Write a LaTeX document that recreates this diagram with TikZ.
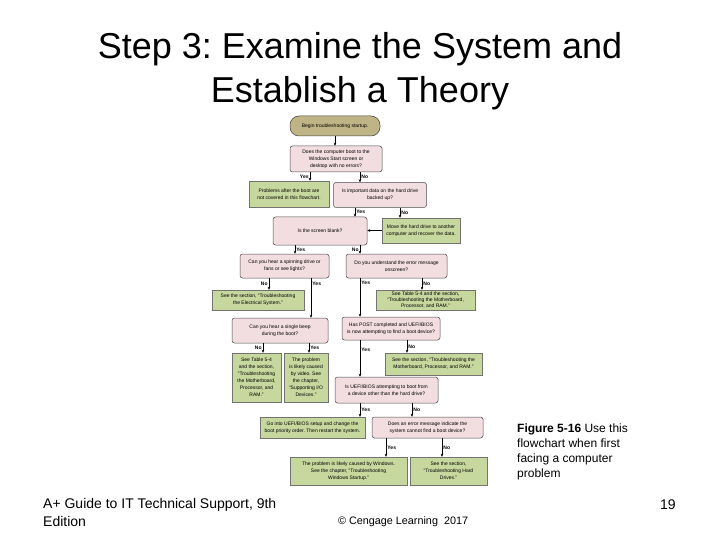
\documentclass[tikz,border=0pt]{standalone}
\usepackage{fontspec}
\setmainfont{Liberation Sans}
\usetikzlibrary{arrows.meta}
\frenchspacing

\definecolor{askpink}{RGB}{242,221,224}
\definecolor{dogreen}{RGB}{199,216,158}
\definecolor{begintan}{RGB}{191,180,133}
\newcommand{\flowfont}{\fontsize{5}{7}\selectfont}

\tikzset{
  question/.style={draw=black!70, fill=askpink, rounded corners=2.5pt, align=center, font=\flowfont, inner sep=1pt, line width=0.5pt},
  answer/.style={draw=black!55, fill=dogreen, align=center, font=\flowfont, inner sep=1pt, line width=0.4pt},
  beginbox/.style={draw=black!75, fill=begintan, rounded corners=9pt, align=center, font=\flowfont, line width=0.5pt},
  flowarrow/.style={-{Stealth[length=3pt,width=2.6pt]}, line width=0.45pt},
  choice/.style={font=\flowfont\bfseries, inner sep=1.2pt}
}

\begin{document}
\begin{tikzpicture}[x=1pt,y=-1pt]
  \useasboundingbox (0,0) rectangle (720,540);

  % title
  \node[anchor=base, font=\fontsize{36}{44}\selectfont] (title1) at (360,59) {Step 3: Examine the System and};
  \node[anchor=base, font=\fontsize{36}{44}\selectfont] (title2) at (360,103) {Establish a Theory};

  % flowchart boxes
  \node[beginbox, minimum width=90, minimum height=20] (begin) at (335,126) {Begin troubleshooting startup.};
  \node[question, minimum width=92, minimum height=26] (boot) at (336,159) {Does the computer boot to the\\ Windows Start screen or\\ desktop with no errors?};
  \node[answer, minimum width=80, minimum height=26] (notcovered) at (289,194) {Problems after the boot are\\ not covered in this flowchart.};
  \node[question, minimum width=93, minimum height=25] (backup) at (380,195) {Is important data on the hard drive\\ backed up?};
  \node[answer, minimum width=78, minimum height=25] (movedrive) at (421,230.5) {Move the hard drive to another\\ computer and recover the data.};
  \node[question, minimum width=94, minimum height=28] (blank) at (320,231) {Is the screen blank?};
  \node[question, minimum width=89, minimum height=24] (spinning) at (284.5,266) {Can you hear a spinning drive or\\ fans or see lights?};
  \node[question, minimum width=101, minimum height=24] (errmsg) at (396.5,266) {Do you understand the error message\\ onscreen?};
  \node[answer, minimum width=92, minimum height=20] (electrical) at (258,300) {See the section, “Troubleshooting\\ the Electrical System.”};
  \node[answer, minimum width=99, minimum height=20, font=\fontsize{5}{6.2}\selectfont, inner sep=0.5pt] (mobo) at (425.5,300) {See Table 5-4 and the section,\\ “Troubleshooting the Motherboard,\\ Processor, and RAM.”};
  \node[question, minimum width=96, minimum height=25] (beep) at (280,330.5) {Can you hear a single beep\\ during the boot?};
  \node[question, minimum width=98, minimum height=23] (post) at (391,328.5) {Has POST completed and UEFI/BIOS\\ is now attempting to find a boot device?};
  \node[answer, minimum width=49, minimum height=49] (beepmobo) at (256.5,377.5) {See Table 5-4\\ and the section,\\ “Troubleshooting\\ the Motherboard,\\ Processor, and\\ RAM.”};
  \node[answer, minimum width=44, minimum height=49] (video) at (306,377.5) {The problem\\ is likely caused\\ by video. See\\ the chapter,\\ “Supporting I/O\\ Devices.”};
  \node[answer, minimum width=97, minimum height=22] (postmobo) at (433.5,364) {See the section, “Troubleshooting the\\ Motherboard, Processor, and RAM.”};
  \node[question, minimum width=103, minimum height=26] (otherdev) at (386.5,390) {Is UEFI/BIOS attempting to boot from\\ a device other than the hard drive?};
  \node[answer, minimum width=105, minimum height=21] (priority) at (312.5,427.5) {Go into UEFI/BIOS setup and change the\\ boot priority order. Then restart the system.};
  \node[question, minimum width=111, minimum height=21] (nodevice) at (427.5,427.5) {Does an error message indicate the\\ system cannot find a boot device?};
  \node[answer, minimum width=117, minimum height=28] (windows) at (348.5,471) {The problem is likely caused by Windows.\\ See the chapter, “Troubleshooting\\ Windows Startup.”};
  \node[answer, minimum width=77, minimum height=28] (harddrive) at (448.5,471) {See the section,\\ “Troubleshooting Hard\\ Drives.”};

  % connectors
  \draw[flowarrow] (begin.south) -- (begin.south |- boot.north);
  \draw[flowarrow] ([xshift=-26]boot.south) -- ([xshift=-26]boot.south |- notcovered.north) node[choice, midway, left] {Yes};
  \draw[flowarrow] ([xshift=24]boot.south) -- ([xshift=24]boot.south |- backup.north) node[choice, midway, right] {No};
  \draw[flowarrow] ([xshift=-25]backup.south) -- ([xshift=-25]backup.south |- blank.north) node[choice, midway, right] {Yes};
  \draw[flowarrow] ([xshift=20]backup.south) -- ([xshift=20]backup.south |- movedrive.north) node[choice, midway, right] {No};
  \draw[flowarrow] (movedrive.west) -- (movedrive.west -| blank.east);
  \draw[flowarrow] ([xshift=-25]blank.south) -- ([xshift=-25]blank.south |- spinning.north) node[choice, midway, right] {Yes};
  \draw[flowarrow] ([xshift=40]blank.south) -- ([xshift=40]blank.south |- errmsg.north) node[choice, midway, left] {No};
  \draw[flowarrow] ([xshift=-15.5]spinning.south) -- ([xshift=-15.5]spinning.south |- electrical.north) node[choice, midway, left] {No};
  \draw[flowarrow] ([xshift=26.5]spinning.south) -- ([xshift=26.5]spinning.south |- beep.north) node[choice, pos=0.13, right] {Yes};
  \draw[flowarrow] ([xshift=-36.5]errmsg.south) -- ([xshift=-36.5]errmsg.south |- post.north) node[choice, pos=0.13, right] {Yes};
  \draw[flowarrow] ([xshift=25.5]errmsg.south) -- ([xshift=25.5]errmsg.south |- mobo.north) node[choice, midway, right] {No};
  \draw[flowarrow] ([xshift=-17]beep.south) -- ([xshift=-17]beep.south |- beepmobo.north) node[choice, midway, left] {No};
  \draw[flowarrow] ([xshift=29]beep.south) -- ([xshift=29]beep.south |- video.north) node[choice, midway, right] {Yes};
  \draw[flowarrow] ([xshift=-31]post.south) -- ([xshift=-31]post.south |- otherdev.north) node[choice, pos=0.25, right] {Yes};
  \draw[flowarrow] ([xshift=16]post.south) -- ([xshift=16]post.south |- postmobo.north) node[choice, midway, right] {No};
  \draw[flowarrow] ([xshift=-26.5]otherdev.south) -- ([xshift=-26.5]otherdev.south |- priority.north) node[choice, midway, right] {Yes};
  \draw[flowarrow] ([xshift=25.5]otherdev.south) -- ([xshift=25.5]otherdev.south |- nodevice.north) node[choice, midway, right] {No};
  \draw[flowarrow] ([xshift=-41.5]nodevice.south) -- ([xshift=-41.5]nodevice.south |- windows.north) node[choice, midway, right] {Yes};
  \draw[flowarrow] ([xshift=14.5]nodevice.south) -- ([xshift=14.5]nodevice.south |- harddrive.north) node[choice, midway, right] {No};

  % caption and footer
  \node[anchor=north west, align=left, inner sep=0pt, font=\fontsize{12}{15}\selectfont] (caption) at (517,423.3) {\textbf{Figure 5-16} Use this\\ flowchart when first\\ facing a computer\\ problem};
  \node[anchor=north west, align=left, inner sep=0pt, font=\fontsize{14}{18}\selectfont] (book) at (43,497.8) {A+ Guide to IT Technical Support, 9th\\ Edition};
  \node[anchor=base west, inner sep=0pt, font=\fontsize{10.8}{13}\selectfont] (copyright) at (338,524) {© Cengage Learning\ \ 2017};
  \node[anchor=base west, inner sep=0pt, font=\fontsize{14}{17}\selectfont] (pagenum) at (660,509) {19};
\end{tikzpicture}
\end{document}
